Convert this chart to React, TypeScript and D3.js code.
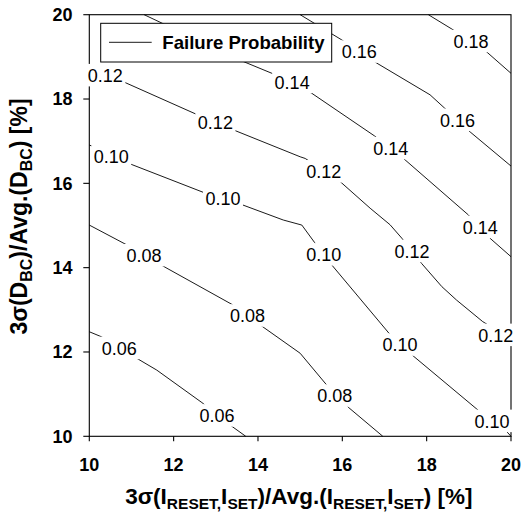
import React from "react";
import * as d3 from "d3";

// ---- data (x = 3σ(I)/Avg [%], y = 3σ(D_BC)/Avg [%]) ----
const xTicks = [10, 12, 14, 16, 18, 20];
const yTicks = [10, 12, 14, 16, 18, 20];

const contour006: [number, number][] = [
  [10.0, 12.48], [10.29, 12.36], [11.16, 11.83], [11.6, 11.57], [12.67, 10.8], [13.39, 10.23], [13.71, 10.0],
];
const contour008: [number, number][] = [
  [10.0, 15.01], [10.89, 14.54], [11.78, 14.02], [13.38, 13.13], [14.11, 12.6], [15.0, 11.97], [15.61, 11.24], [16.14, 10.69], [16.96, 10.0],
];
const contour010: [number, number][] = [
  [10.0, 16.91], [10.97, 16.46], [12.72, 15.78], [13.63, 15.49], [14.6, 15.13], [15.04, 15.01], [15.34, 14.6], [15.77, 14.04], [17.11, 12.44], [17.7, 11.89], [19.22, 10.62], [19.9, 10.11], [20.0, 10.0],
];
const contour012: [number, number][] = [
  [10.0, 18.76], [10.85, 18.39], [12.58, 17.62], [13.46, 17.25], [15.0, 16.63], [15.12, 16.59], [15.95, 16.04], [16.66, 15.41], [17.13, 15.02], [17.41, 14.7], [17.88, 14.1], [18.36, 13.55], [18.71, 13.23], [19.33, 12.72], [20.0, 12.31],
];
const contour014: [number, number][] = [
  [11.3, 20.0], [13.65, 18.89], [14.33, 18.61], [15.27, 18.14], [16.77, 17.12], [17.45, 16.59], [18.99, 15.25], [19.5, 14.7], [20.0, 14.26],
];
const contour016: [number, number][] = [
  [15.0, 20.0], [15.99, 19.4], [16.82, 18.85], [18.08, 18.1], [18.43, 17.78], [19.03, 17.22], [20.0, 16.41],
];
const contour018: [number, number][] = [
  [18.04, 20.0], [18.63, 19.64], [19.42, 19.12], [20.0, 18.61],
];
const contours = [contour006, contour008, contour010, contour012, contour014, contour016, contour018];

const labelText = ["0.06", "0.06", "0.08", "0.08", "0.08", "0.10", "0.10", "0.10", "0.10", "0.10",
  "0.12", "0.12", "0.12", "0.12", "0.12", "0.14", "0.14", "0.14", "0.16", "0.16", "0.18"];
const labelX = [10.71, 13.03, 11.3, 13.75, 15.82, 10.52, 13.17, 15.56, 17.37, 19.55,
  10.38, 12.99, 15.56, 17.65, 19.64, 14.81, 17.15, 19.27, 16.4, 18.73, 19.05];
const labelY = [12.09, 10.49, 14.29, 12.86, 10.96, 16.63, 15.64, 14.31, 12.17, 10.36,
  18.56, 17.43, 16.28, 14.39, 12.4, 18.4, 16.83, 14.96, 19.12, 17.5, 19.37];

const legendLabel = "Failure Probability";

export default function App() {
  const W = 523, H = 519;
  const x = d3.scaleLinear().domain([10, 20]).range([89.3, 511]);
  const y = d3.scaleLinear().domain([10, 20]).range([436.3, 14.7]);
  const line = d3.line<[number, number]>().x(d => x(d[0])).y(d => y(d[1]));
  const font = "'Liberation Sans', Arial, Helvetica, sans-serif";
  const [x0, x1] = x.range();
  const [y0, y1] = y.range();

  return (
    <svg width={W} height={H} style={{ position: "absolute", left: 0, top: 0, background: "#fff" }}
      fontFamily={font}>
      <rect x={0} y={0} width={W} height={H} fill="#fff" />
      {/* contour lines */}
      {contours.map((c, i) => (
        <path key={i} d={line(c) || ""} fill="none" stroke="#000" strokeWidth={0.9} />
      ))}
      {/* frame */}
      <rect x={x0} y={y1} width={x1 - x0} height={y0 - y1} fill="none" stroke="#000" strokeWidth={1.1} />
      {xTicks.map(t => (
        <line key={"xt" + t} x1={x(t)} x2={x(t)} y1={y0} y2={y0 + 5} stroke="#000" strokeWidth={1.1} />
      ))}
      {yTicks.map(t => (
        <line key={"yt" + t} x1={x0 - 6} x2={x0} y1={y(t)} y2={y(t)} stroke="#000" strokeWidth={1.1} />
      ))}
      {xTicks.map(t => (
        <text key={"xl" + t} x={x(t)} y={470.5} textAnchor="middle" fontSize={18} fontWeight="bold">{t}</text>
      ))}
      {yTicks.map(t => (
        <text key={"yl" + t} x={72.5} y={y(t) + 6.4} textAnchor="end" fontSize={18} fontWeight="bold">{t}</text>
      ))}
      {/* legend */}
      <rect x={100.7} y={23.3} width={231} height={38.7} fill="#fff" stroke="#000" strokeWidth={1} />
      <line x1={109} x2={151.7} y1={42.3} y2={42.3} stroke="#000" strokeWidth={0.9} />
      <text x={162.3} y={48.6} fontSize={18.6} fontWeight="bold">{legendLabel}</text>
      {/* contour labels */}
      {labelText.map((s, i) => {
        const cx = x(labelX[i]);
        const cy = y(labelY[i]);
        return (
          <g key={"lab" + i}>
            <rect x={cx - 20} y={cy - 11.5} width={40} height={22.5} fill="#fff" />
            <text x={cx} y={cy + 6.4} textAnchor="middle" fontSize={18}>{s}</text>
          </g>
        );
      })}
      {/* axis titles */}
      <text x={298.8} y={504} textAnchor="middle" fontSize={22.5} fontWeight="bold">
        3σ(I<tspan fontSize={15.5} dy={5}>RESET,</tspan><tspan dy={-5}>I</tspan><tspan fontSize={15.5} dy={5}>SET</tspan><tspan dy={-5}>)/Avg.(I</tspan><tspan fontSize={15.5} dy={5}>RESET,</tspan><tspan dy={-5}>I</tspan><tspan fontSize={15.5} dy={5}>SET</tspan><tspan dy={-5}>) [%]</tspan>
      </text>
      <text transform="translate(26.5,216.5) rotate(-90)" x={0} y={0} textAnchor="middle" fontSize={23} fontWeight="bold">
        3σ(D<tspan fontSize={16} dy={5}>BC</tspan><tspan dy={-5}>)/Avg.(D</tspan><tspan fontSize={16} dy={5}>BC</tspan><tspan dy={-5}>) [%]</tspan>
      </text>
    </svg>
  );
}
